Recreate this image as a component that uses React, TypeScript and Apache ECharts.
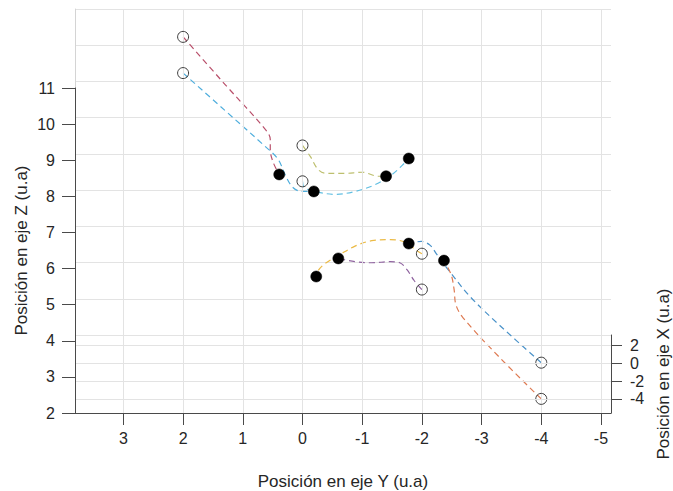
import React, { useEffect, useRef } from "react";
import * as echarts from "echarts";

// ---- Axis ticks ----
const yAxisTicks = [3, 2, 1, 0, -1, -2, -3, -4, -5]; // horizontal axis: "Posición en eje Y"
const zAxisTicks = [2, 3, 4, 5, 6, 7, 8, 9, 10, 11]; // left axis: "Posición en eje Z"
const xAxisTicks = [2, 0, -2, -4]; // right depth axis: "Posición en eje X"

// ---- Trajectories, as seen on screen: [Y, Z (projected)] ----
const trajMaroon = [
  [2.0, 12.39], [1.3, 11.08], [0.61, 9.81], [0.54, 9.56], [0.54, 9.28], [0.49, 8.92], [0.39, 8.59],
];
const trajLightBlue = [
  [2.0, 11.39], [1.3, 10.36], [0.63, 9.37], [0.41, 9.01], [0.28, 8.54], [0.16, 8.23], [0.01, 8.12], [-0.19, 8.12],
];
const trajGreen = [
  [0.0, 9.39], [-0.13, 9.09], [-0.26, 8.73], [-0.39, 8.62], [-0.71, 8.62], [-1.0, 8.65], [-1.27, 8.54], [-1.4, 8.54],
];
const trajBlueUpper = [
  [0.0, 8.4], [-0.03, 8.23], [-0.21, 8.12], [-0.54, 8.04], [-0.88, 8.12], [-1.22, 8.31], [-1.5, 8.59], [-1.67, 8.84], [-1.78, 9.03],
];
const trajYellow = [
  [-2.0, 6.4], [-1.87, 6.54], [-1.72, 6.72], [-1.47, 6.79], [-1.16, 6.76], [-0.88, 6.61], [-0.63, 6.38], [-0.38, 6.13], [-0.26, 5.93], [-0.23, 5.77],
];
const trajPurple = [
  [-2.0, 5.41], [-1.87, 5.66], [-1.75, 5.96], [-1.63, 6.15], [-1.47, 6.18], [-1.16, 6.15], [-0.88, 6.18], [-0.68, 6.24], [-0.6, 6.27],
];
const trajBlueLower = [
  [-4.0, 3.39], [-3.31, 4.41], [-2.81, 5.21], [-2.44, 5.96], [-2.25, 6.38], [-2.14, 6.63], [-1.99, 6.74], [-1.78, 6.68],
];
const trajOrange = [
  [-4.0, 2.39], [-3.31, 3.52], [-2.69, 4.63], [-2.57, 4.99], [-2.54, 5.41], [-2.49, 5.82], [-2.37, 6.21],
];

const trajectories = [
  { name: "t1", data: trajMaroon, color: "#B9506B" },
  { name: "t2", data: trajLightBlue, color: "#4FAEDD" },
  { name: "t3", data: trajGreen, color: "#BDBF6E" },
  { name: "t4", data: trajBlueUpper, color: "#62BFE2" },
  { name: "t5", data: trajYellow, color: "#EBBA45" },
  { name: "t6", data: trajPurple, color: "#9064A0" },
  { name: "t7", data: trajBlueLower, color: "#4A92C9" },
  { name: "t8", data: trajOrange, color: "#DE7A52" },
];

// ---- Layout ----
const W = 673;
const H = 491;
const LEFT = 75;
const RIGHT = W - 611;
const TOP = 9;
const BOTTOM = H - 413;
const FRONT_TOP = 88;
const FLOOR_TOP = 335;
const Y_MIN = -5.168;
const Y_MAX = 3.811;
const Z_MIN = 2;
const Z_MAX = 11;
const Z_VIEW_MAX = 13.16;
const X_MIN = -5.6;
const X_MAX = 3.2;

const FONT = "Liberation Sans, Arial, Helvetica, sans-serif";
const AXIS_DARK = "#4a4a4a";
const TEXT = "#262626";
const GRID = "#e3e3e3";

export default function App() {
  const ref = useRef<HTMLDivElement>(null);

  useEffect(() => {
    if (!ref.current) return;
    const chart = echarts.init(ref.current, undefined, { renderer: "svg" });

    const lineSeries = trajectories.map((t) => ({
      type: "line",
      name: t.name,
      data: t.data,
      xAxisIndex: 0,
      yAxisIndex: 0,
      smooth: 0.35,
      showSymbol: false,
      symbol: "none",
      lineStyle: { color: t.color, width: 1.2, type: [6, 4] },
      z: 2,
    }));

    const starts = trajectories.map((t) => t.data[0]);
    const ends = trajectories.map((t) => t.data[t.data.length - 1]);

    const gridBase = { left: LEFT, right: RIGHT, containLabel: false, outerBoundsMode: "none" };

    const option: any = {
      animation: false,
      backgroundColor: "#ffffff",
      textStyle: { fontFamily: FONT },
      grid: [
        { ...gridBase, top: TOP, bottom: BOTTOM },
        { ...gridBase, top: FRONT_TOP, bottom: BOTTOM },
        { ...gridBase, top: TOP, bottom: H - FLOOR_TOP },
        { ...gridBase, top: FLOOR_TOP, bottom: BOTTOM },
      ],
      xAxis: [
        {
          gridIndex: 0,
          type: "value",
          inverse: true,
          min: Y_MIN,
          max: Y_MAX,
          name: "Posición en eje Y (u.a)",
          nameLocation: "middle",
          nameGap: 60,
          nameMoveOverlap: false,
          nameTextStyle: { fontSize: 17, color: TEXT, fontFamily: FONT },
          axisLine: { show: true, onZero: false, lineStyle: { color: AXIS_DARK, width: 1 } },
          axisTick: { show: true, inside: false, length: 12, customValues: yAxisTicks, lineStyle: { color: AXIS_DARK } },
          axisLabel: { show: true, customValues: yAxisTicks, margin: 17, fontSize: 16, color: TEXT, fontFamily: FONT },
          splitLine: { show: true, lineStyle: { color: GRID, width: 1 } },
          z: 3,
        },
        { gridIndex: 1, type: "value", inverse: true, min: Y_MIN, max: Y_MAX, show: false },
        { gridIndex: 2, type: "value", inverse: true, min: Y_MIN, max: Y_MAX, show: false },
        { gridIndex: 3, type: "value", inverse: true, min: Y_MIN, max: Y_MAX, show: false },
      ],
      yAxis: [
        {
          gridIndex: 0,
          type: "value",
          min: Z_MIN,
          max: Z_VIEW_MAX,
          axisLine: { show: true, onZero: false, lineStyle: { color: "#d4d4d4" } },
          axisTick: { show: false },
          axisLabel: { show: false },
          splitLine: { show: false },
        },
        {
          gridIndex: 1,
          type: "value",
          min: Z_MIN,
          max: Z_MAX,
          interval: 1,
          name: "Posición en eje Z (u.a)",
          nameLocation: "middle",
          nameGap: 45,
          nameMoveOverlap: false,
          nameTextStyle: { fontSize: 17, color: TEXT, fontFamily: FONT },
          axisLine: { show: true, onZero: false, lineStyle: { color: AXIS_DARK, width: 1 } },
          axisTick: { show: true, length: 13, customValues: zAxisTicks, lineStyle: { color: AXIS_DARK } },
          axisLabel: { show: true, customValues: zAxisTicks, margin: 20, fontSize: 16, color: TEXT, fontFamily: FONT },
          splitLine: { show: false },
          z: 5,
        },
        {
          gridIndex: 2,
          type: "value",
          min: Z_MIN,
          max: Z_MAX,
          interval: 1,
          axisLine: { show: false, onZero: false },
          axisTick: { show: false },
          axisLabel: { show: false },
          splitLine: { show: true, lineStyle: { color: GRID, width: 1 } },
        },
        {
          gridIndex: 3,
          type: "value",
          position: "right",
          min: X_MIN,
          max: X_MAX,
          name: "Posición en eje X (u.a)",
          nameLocation: "middle",
          nameGap: 44,
          nameTextStyle: { fontSize: 17, color: TEXT, fontFamily: FONT },
          axisLine: { show: true, onZero: false, lineStyle: { color: AXIS_DARK, width: 1 } },
          axisTick: { show: true, length: 11, customValues: xAxisTicks, lineStyle: { color: AXIS_DARK } },
          axisLabel: { show: true, customValues: xAxisTicks, margin: 19, fontSize: 16, color: TEXT, fontFamily: FONT },
          splitLine: { show: true, lineStyle: { color: GRID, width: 1 } },
          z: 5,
        },
      ],
      series: [
        ...lineSeries,
        {
          type: "scatter",
          name: "start",
          xAxisIndex: 0,
          yAxisIndex: 0,
          data: starts,
          symbol: "circle",
          symbolSize: 11,
          itemStyle: { color: "rgba(255,255,255,0)", borderColor: "#3a3a3a", borderWidth: 1, opacity: 1 },
          z: 4,
        },
        {
          type: "scatter",
          name: "end",
          xAxisIndex: 0,
          yAxisIndex: 0,
          data: ends,
          symbol: "circle",
          symbolSize: 11,
          itemStyle: { color: "#000000", borderColor: "#000000", borderWidth: 0.5, opacity: 1 },
          z: 4,
        },
      ],
    };

    chart.setOption(option);
    return () => chart.dispose();
  }, []);

  return (
    <div
      ref={ref}
      style={{ position: "absolute", left: 0, top: 0, width: W, height: H, background: "#fff" }}
    />
  );
}
